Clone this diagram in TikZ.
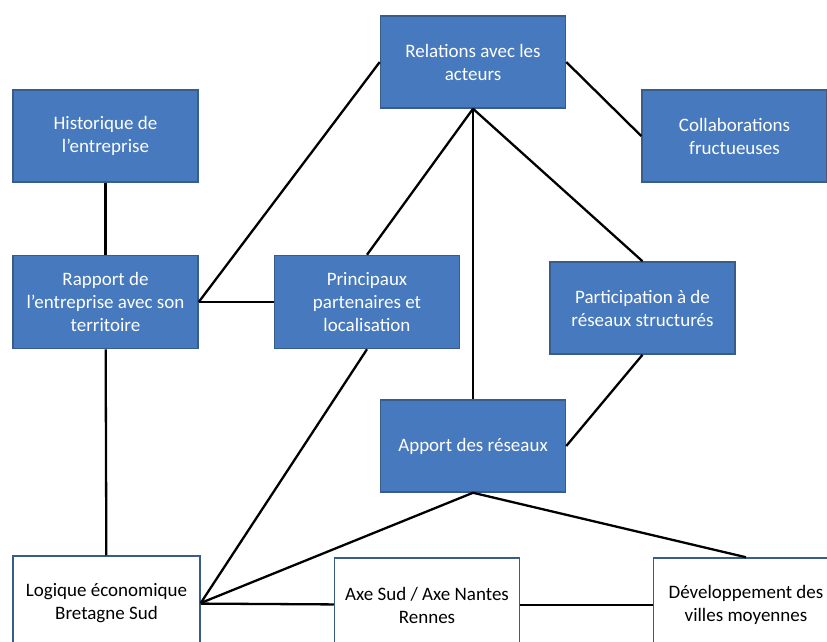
\documentclass[tikz,border=0pt]{standalone}
\usepackage{fontspec}
\setmainfont{Carlito}
\usepackage{xcolor}
\usepackage{tikz}
\definecolor{boxfill}{RGB}{70,121,189}
\definecolor{boxline}{RGB}{56,93,138}

\begin{document}
\begin{tikzpicture}[x=1pt, y=-1pt,
    bluebox/.style={draw=boxline, line width=1.5pt, fill=boxfill, text=white, align=center,
        minimum width=185pt, minimum height=92pt, inner sep=0pt, font=\fontsize{19}{23}\selectfont},
    whitebox/.style={bluebox, fill=white, text=black, minimum height=94pt},
    link/.style={line width=2.3pt, black}]
            \useasboundingbox (0,0) rectangle (827,641);
            \clip (0,0) rectangle (827,641);
            \node[bluebox] (relations) at (473,62) {Relations avec les\\acteurs};
            \node[bluebox] (historique) at (105.5,136) {Historique de\\l'entreprise};
            \node[bluebox] (collab) at (734.5,136) {Collaborations\\fructueuses};
            \node[bluebox, minimum height=93pt] (rapport) at (105.5,302) {Rapport de\\l'entreprise avec son\\territoire};
            \node[bluebox, minimum height=93pt] (partenaires) at (367,302) {Principaux\\partenaires et\\localisation};
            \node[bluebox] (participation) at (642.5,308) {Participation à de\\réseaux structurés};
            \node[bluebox] (apport) at (473,446) {Apport des réseaux};
            \node[whitebox, minimum width=187pt] (logique) at (106.5,603) {Logique économique\\Bretagne Sud};
            \node[whitebox] (axe) at (427,605) {Axe Sud / Axe Nantes\\Rennes};
            \node[whitebox] (villes) at (746,605) {Développement des\\villes moyennes};

            \draw[link] (relations.west) -- (rapport.east);
            \draw[link] (relations.east) -- (collab.west);
            \draw[link] (relations.south) -- (partenaires.north);
            \draw[link] (relations.south) -- (apport.north);
            \draw[link] (relations.south) -- (participation.north);
            \draw[link] (historique) -- (rapport);
            \draw[link] (rapport) -- (partenaires);
            \draw[link] (rapport) -- (logique);
            \draw[link] (partenaires.south) -- (logique.east);
            \draw[link] (participation.south) -- (apport.east);
            \draw[link] (apport.south) -- (logique.east);
            \draw[link] (apport.south) -- (villes.north);
            \draw[link] (logique) -- (axe);
            \draw[link] (axe) -- (villes);
        \end{tikzpicture}
\end{document}
